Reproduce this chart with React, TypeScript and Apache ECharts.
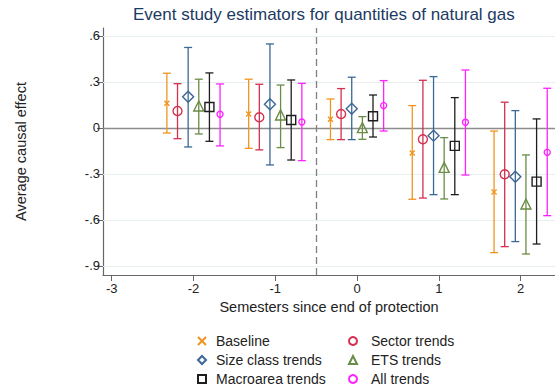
import React, { useEffect, useRef } from "react";
import * as echarts from "echarts";

// Semesters relative to the end of protection
const semesters = [-2, -1, 0, 1, 2];

// Point estimates and 95% bounds for each estimator
const baselineEst = [0.161, 0.091, 0.057, -0.163, -0.417];
const baselineLo = [-0.033, -0.133, -0.076, -0.465, -0.813];
const baselineHi = [0.357, 0.318, 0.189, 0.146, -0.02];

const sectorEst = [0.111, 0.07, 0.091, -0.074, -0.302];
const sectorLo = [-0.07, -0.143, -0.076, -0.457, -0.774];
const sectorHi = [0.289, 0.285, 0.257, 0.311, 0.168];

const sizeEst = [0.204, 0.155, 0.126, -0.05, -0.318];
const sizeLo = [-0.124, -0.241, -0.076, -0.435, -0.741];
const sizeHi = [0.525, 0.548, 0.331, 0.335, 0.113];

const etsEst = [0.143, 0.085, 0.002, -0.257, -0.496];
const etsLo = [-0.039, -0.128, -0.074, -0.463, -0.822];
const etsHi = [0.318, 0.28, 0.074, -0.063, -0.176];

const macroEst = [0.137, 0.052, 0.076, -0.117, -0.35];
const macroLo = [-0.087, -0.209, -0.059, -0.435, -0.757];
const macroHi = [0.359, 0.313, 0.215, 0.198, 0.059];

const allEst = [0.089, 0.039, 0.146, 0.037, -0.159];
const allLo = [-0.117, -0.213, -0.02, -0.307, -0.572];
const allHi = [0.287, 0.291, 0.309, 0.378, 0.259];

const xTicks = [-3, -2, -1, 0, 1, 2];
const yTicks = [-0.9, -0.6, -0.3, 0, 0.3, 0.6];

type Estimator = {
  name: string;
  est: number[];
  lo: number[];
  hi: number[];
  color: string;
  symbol: string;
  symbolSize: number | number[];
};

const estimators: Estimator[] = [
  { name: "Baseline", est: baselineEst, lo: baselineLo, hi: baselineHi, color: "#f0941f", symbol: "path://M0,0L1,1M1,0L0,1", symbolSize: 5 },
  { name: "Sector trends", est: sectorEst, lo: sectorLo, hi: sectorHi, color: "#d42f4e", symbol: "circle", symbolSize: 9 },
  { name: "Size class trends", est: sizeEst, lo: sizeLo, hi: sizeHi, color: "#3b6894", symbol: "diamond", symbolSize: [11, 11] },
  { name: "ETS trends", est: etsEst, lo: etsLo, hi: etsHi, color: "#6a8c46", symbol: "triangle", symbolSize: 10 },
  { name: "Macroarea trends", est: macroEst, lo: macroLo, hi: macroHi, color: "#1e1e1e", symbol: "rect", symbolSize: 9 },
  { name: "All trends", est: allEst, lo: allLo, hi: allHi, color: "#ff22ff", symbol: "circle", symbolSize: 6 },
];

// horizontal dodge of the six estimators around each semester
const DODGE = 0.13;

const fmtTick = (v: number) => {
  if (v === 0) return "0";
  const s = String(Math.abs(Math.round(v * 10) / 10)).replace(/^0/, "");
  return (v < 0 ? "-" : "") + s;
};

export default function App() {
  const ref = useRef<HTMLDivElement>(null);

  useEffect(() => {
    if (!ref.current) return;
    const chart = echarts.init(ref.current, null, { renderer: "svg" });
    const font = "Liberation Sans, Arial, sans-serif";

    const series: any[] = [];
    estimators.forEach((e, i) => {
      const off = (i - 2.5) * DODGE;
      series.push({
        type: "custom",
        name: e.name + " CI",
        z: 2,
        silent: true,
        encode: { x: 0, y: [1, 2] },
        data: semesters.map((s, k) => [s + off, e.lo[k], e.hi[k]]),
        renderItem: (params: any, api: any) => {
          const x = api.value(0);
          const pLo = api.coord([x, api.value(1)]);
          const pHi = api.coord([x, api.value(2)]);
          const cap = 4;
          const style = { stroke: e.color, lineWidth: 1.3 };
          return {
            type: "group",
            children: [
              { type: "line", shape: { x1: pLo[0], y1: pLo[1], x2: pHi[0], y2: pHi[1] }, style },
              { type: "line", shape: { x1: pLo[0] - cap, y1: pLo[1], x2: pLo[0] + cap, y2: pLo[1] }, style },
              { type: "line", shape: { x1: pHi[0] - cap, y1: pHi[1], x2: pHi[0] + cap, y2: pHi[1] }, style },
            ],
          };
        },
      });
    });
    estimators.forEach((e, i) => {
      const off = (i - 2.5) * DODGE;
      const s: any = {
        type: "scatter",
        name: e.name,
        z: 3,
        symbol: e.symbol,
        symbolSize: e.symbolSize,
        itemStyle: { color: "transparent", borderColor: e.color, borderWidth: 1.4, opacity: 1 },
        data: semesters.map((sm, k) => [sm + off, e.est[k]]),
      };
      if (i === 0) {
        s.markLine = {
          silent: true,
          symbol: "none",
          z: 1,
          label: { show: false },
          data: [
            ...yTicks
              .filter((v) => v !== 0)
              .map((v) => ({ yAxis: v, lineStyle: { color: "#e8eff0", width: 1, type: "solid" } })),
            { yAxis: 0, lineStyle: { color: "#8c8c8c", width: 1.3, type: "solid" } },
            { xAxis: -0.5, lineStyle: { color: "#808080", width: 1.3, type: [7, 4] } },
          ],
        };
      }
      series.push(s);
    });

    const legendCommon = {
      orient: "vertical",
      itemWidth: 8,
      itemHeight: 8,
      itemGap: 5,
      height: 90,
      top: 329,
      selectedMode: false,
    };

    chart.setOption({
      animation: false,
      title: {
        text: "Event study estimators for quantities of natural gas",
        left: 128,
        top: 1,
        textStyle: { fontFamily: font, fontSize: 17, fontWeight: "normal", color: "#1c3a63" },
      },
      legend: [
        {
          ...legendCommon,
          left: 192,
          textStyle: { fontFamily: font, fontSize: 14, color: "#222", padding: [0, 0, 0, 5] },
          data: ["Baseline", "Size class trends", "Macroarea trends"],
        },
        {
          ...legendCommon,
          left: 343,
          textStyle: { fontFamily: font, fontSize: 14, color: "#222", padding: [0, 0, 0, 9] },
          data: ["Sector trends", "ETS trends", "All trends"],
        },
      ],
      grid: { left: 103, top: 28, right: 0, bottom: 111, containLabel: false },
      xAxis: {
        type: "value",
        min: -3.106,
        max: 2.42,
        name: "Semesters since end of protection",
        nameLocation: "middle",
        nameGap: 23,
        nameTextStyle: { fontFamily: font, fontSize: 14.5, color: "#222" },
        axisLine: { show: true, onZero: false, lineStyle: { color: "#666", width: 1.2 } },
        axisTick: { show: true, length: 6, customValues: xTicks, lineStyle: { color: "#666" } },
        axisLabel: { customValues: xTicks, fontFamily: font, fontSize: 13, color: "#222", margin: 7 },
        splitLine: { show: false },
      },
      yAxis: {
        type: "value",
        min: -0.959,
        max: 0.652,
        name: "Average causal effect",
        nameLocation: "middle",
        nameGap: 75,
        nameTextStyle: { fontFamily: font, fontSize: 14.5, color: "#222" },
        axisLine: { show: true, onZero: false, lineStyle: { color: "#666", width: 1.2 } },
        axisTick: { show: true, length: 6, customValues: yTicks, lineStyle: { color: "#666" } },
        axisLabel: { customValues: yTicks, formatter: fmtTick, fontFamily: font, fontSize: 13, color: "#222", margin: 3 },
        splitLine: { show: false },
      },
      series,
    });
    return () => chart.dispose();
  }, []);

  return (
    <div
      ref={ref}
      style={{ position: "fixed", left: 0, top: 0, width: 555, height: 386, background: "#fff" }}
    />
  );
}
